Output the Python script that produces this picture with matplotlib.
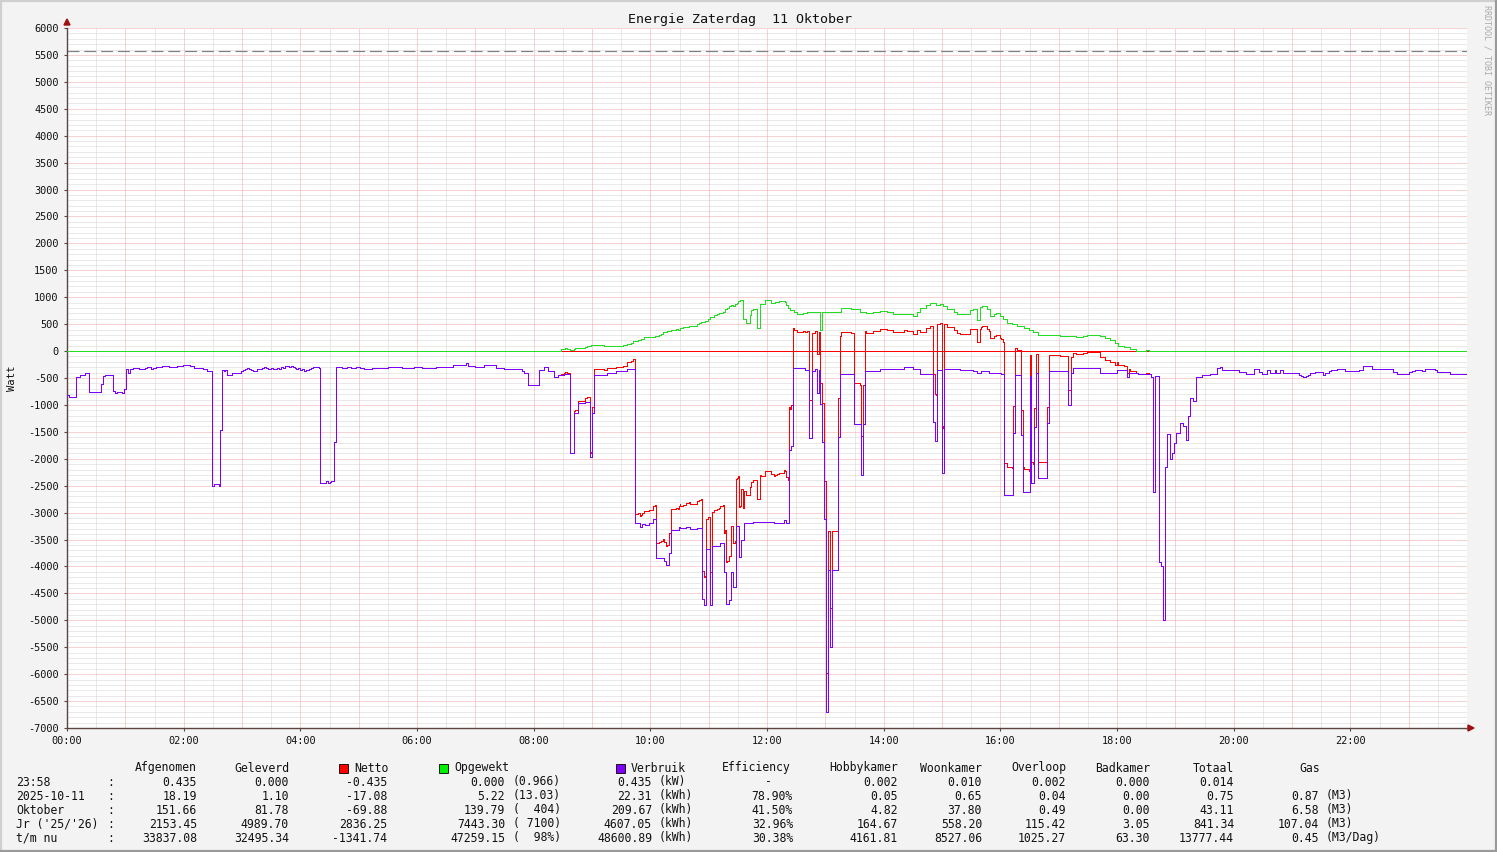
import numpy as np
import matplotlib
matplotlib.use("Agg")
import matplotlib.pyplot as plt
from matplotlib.patches import Rectangle, Polygon
from matplotlib.lines import Line2D

# ---------------- data (time in minutes since 00:00, power in W) ----------------
verbruik_t = [0, 2, 7, 9, 13, 19, 21, 23, 35, 37, 39, 47, 49, 51, 57, 59, 61, 63, 65, 68,
              74, 80, 82, 86, 88, 92, 98, 105, 113, 119, 127, 131, 140, 144, 149, 151, 156, 157, 159, 161,
              163, 165, 170, 179, 181, 183, 185, 187, 189, 191, 195, 197, 201, 203, 205, 207, 210, 212, 216, 218,
              220, 222, 224, 228, 230, 232, 234, 236, 238, 240, 242, 244, 246, 249, 251, 253, 259, 260, 266, 268,
              270, 272, 275, 277, 283, 288, 292, 297, 301, 305, 314, 324, 330, 338, 345, 357, 365, 373, 380, 390,
              397, 410, 412, 420, 429, 441, 449, 456, 468, 470, 474, 485, 491, 495, 501, 505, 511, 517, 521, 526,
              533, 538, 540, 542, 555, 565, 576, 584, 589, 591, 595, 599, 603, 606, 614, 616, 619, 621, 629, 631,
              637, 641, 648, 653, 655, 657, 661, 663, 672, 676, 678, 681, 683, 685, 688, 691, 693, 696, 706, 714,
              718, 727, 730, 737, 740, 743, 745, 747, 759, 763, 766, 769, 771, 773, 775, 777, 779, 781, 783, 785,
              787, 793, 795, 809, 817, 819, 821, 836, 843, 861, 870, 877, 891, 893, 895, 900, 902, 915, 918, 932,
              936, 940, 948, 961, 964, 973, 975, 981, 983, 990, 992, 995, 997, 999, 1008, 1010, 1030, 1033, 1035, 1062,
              1080, 1090, 1092, 1102, 1115, 1117, 1119, 1123, 1125, 1127, 1129, 1131, 1134, 1137, 1139, 1141, 1145, 1148, 1151, 1153,
              1155, 1158, 1161, 1167, 1176, 1183, 1186, 1188, 1205, 1213, 1221, 1226, 1229, 1234, 1237, 1242, 1244, 1248, 1251, 1255,
              1267, 1269, 1271, 1274, 1276, 1279, 1284, 1292, 1294, 1298, 1300, 1306, 1315, 1329, 1333, 1342, 1364, 1368, 1380, 1383,
              1387, 1394, 1397, 1407, 1409, 1422, 1440]
verbruik_w = [-823, -860, -845, -490, -452, -415, -403, -767, -620, -459, -446, -743, -780, -767, -780, -700, -340, -403, -328, -310,
              -340, -310, -291, -328, -310, -291, -272, -291, -272, -254, -272, -310, -340, -378, -2501, -2477, -2501, -1473, -359, -378,
              -359, -446, -403, -378, -359, -340, -310, -328, -359, -378, -340, -328, -310, -291, -310, -328, -310, -328, -310, -328,
              -291, -310, -272, -291, -272, -291, -310, -328, -310, -359, -328, -378, -359, -328, -310, -291, -310, -2445, -2405, -2445,
              -2425, -2405, -1696, -303, -320, -303, -320, -290, -320, -335, -320, -310, -300, -290, -310, -300, -320, -320, -290, -290,
              -260, -229, -285, -300, -260, -310, -330, -335, -378, -415, -625, -360, -290, -378, -489, -452, -430, -1900, -1150, -972,
              -941, -1975, -1151, -440, -410, -378, -335, -3200, -3260, -3215, -3230, -3200, -3126, -3844, -3900, -3974, -3750, -3324, -3270, -3290,
              -3270, -3300, -3280, -4611, -4723, -3671, -4723, -3621, -3570, -4098, -4698, -4630, -4098, -4389, -3250, -3820, -3500, -3188, -3170, -3180,
              -3170, -3200, -3190, -3130, -3190, -1838, -1758, -322, -350, -1622, -378, -340, -774, -360, -984, -1684, -3126, -6698, -4067, -5491,
              -4067, -1591, -433, -1361, -2303, -1361, -365, -340, -330, -303, -330, -433, -1312, -1677, -350, -2259, -330, -340, -355, -370,
              -400, -370, -400, -425, -2674, -1517, -446, -1560, -2613, -464, -2445, -1405, -402, -2365, -1343, -371, -1003, -402, -322, -402,
              -350, -480, -402, -430, -480, -2613, -464, -3924, -3987, -4996, -2148, -1547, -2006, -1900, -1715, -1529, -1343, -1400, -1653, -1207,
              -879, -920, -477, -446, -421, -322, -291, -353, -390, -420, -340, -380, -420, -350, -400, -350, -400, -350, -400, -415,
              -440, -465, -490, -470, -440, -415, -390, -440, -400, -365, -350, -335, -370, -350, -285, -340, -390, -420, -390, -365,
              -350, -370, -335, -360, -390, -427, -427]

opgewekt_t = [0, 508, 512, 514, 517, 521, 523, 533, 535, 539, 552, 572, 576, 580, 582, 587, 590, 593, 605, 609,
              611, 613, 617, 621, 626, 628, 630, 634, 640, 648, 650, 652, 656, 659, 661, 665, 669, 671, 675, 677,
              679, 681, 683, 685, 687, 689, 690, 692, 695, 698, 702, 704, 706, 710, 713, 718, 724, 728, 732, 738,
              740, 742, 744, 748, 751, 757, 761, 775, 777, 796, 806, 816, 822, 829, 836, 843, 850, 864, 870, 874,
              877, 884, 888, 891, 894, 898, 901, 905, 912, 915, 929, 932, 936, 939, 941, 946, 949, 953, 956, 960,
              963, 967, 972, 977, 984, 989, 994, 999, 1021, 1038, 1045, 1049, 1062, 1068, 1073, 1078, 1081, 1087, 1093, 1100,
              1110, 1113, 1440]
opgewekt_w = [0, 31, 50, 31, 13, 31, 50, 68, 87, 105, 87, 105, 124, 142, 180, 198, 217, 254, 273, 291,
              310, 347, 366, 384, 403, 384, 421, 440, 459, 496, 514, 533, 552, 589, 626, 663, 682, 700, 719, 775,
              793, 830, 849, 830, 868, 886, 923, 942, 589, 514, 663, 756, 775, 421, 868, 942, 886, 905, 923, 905,
              849, 793, 756, 719, 682, 700, 719, 384, 719, 793, 775, 730, 700, 730, 745, 718, 693, 681, 656, 730,
              792, 855, 897, 885, 855, 870, 836, 774, 730, 681, 762, 774, 576, 810, 836, 774, 650, 680, 700, 650,
              590, 514, 500, 464, 420, 390, 347, 297, 285, 260, 285, 297, 285, 235, 205, 143, 99, 68, 31, 0,
              15, 0, 0]

limiet_w = 5570  # dashed reference line

x_tick_labels = ["00:00", "02:00", "04:00", "06:00", "08:00", "10:00",
                 "12:00", "14:00", "16:00", "18:00", "20:00", "22:00"]

title = "Energie Zaterdag  11 Oktober"

# legend table
row_labels = ["23:58", "2025-10-11", "Oktober", "Jr ('25/'26)", "t/m nu"]
afgenomen = ["0.435", "18.19", "151.66", "2153.45", "33837.08"]
geleverd = ["0.000", "1.10", "81.78", "4989.70", "32495.34"]
netto_tab = ["-0.435", "-17.08", "-69.88", "2836.25", "-1341.74"]
opgewekt_tab = ["0.000", "5.22", "139.79", "7443.30", "47259.15"]
opgewekt_extra = ["(0.966)", "(13.03)", "(  404)", "( 7100)", "(  98%)"]
verbruik_tab = ["0.435", "22.31", "209.67", "4607.05", "48600.89"]
verbruik_unit = ["(kW)", "(kWh)", "(kWh)", "(kWh)", "(kWh)"]
efficiency = ["-", "78.90%", "41.50%", "32.96%", "30.38%"]
hobbykamer = ["0.002", "0.05", "4.82", "164.67", "4161.81"]
woonkamer = ["0.010", "0.65", "37.80", "558.20", "8527.06"]
overloop = ["0.002", "0.04", "0.49", "115.42", "1025.27"]
badkamer = ["0.000", "0.00", "0.00", "3.05", "63.30"]
totaal = ["0.014", "0.75", "43.11", "841.34", "13777.44"]
gas = ["", "0.87", "6.58", "107.04", "0.45"]
gas_unit = ["", "(M3)", "(M3)", "(M3)", "(M3/Dag)"]

# ---------------- figure ----------------
W, H = 1497, 852
MONO = "DejaVu Sans Mono"
plt.rcParams["font.family"] = MONO

RED = "#FF0000"
GREEN = "#22DD22"
PURPLE = "#8000FF"
AXCOL = "#5A4444"
ARROW = "#A01010"
PX = 0.72  # one pixel in points

fig = plt.figure(figsize=(W / 100, H / 100), dpi=100)
fig.patch.set_facecolor("#F3F3F3")

# overlay in pixel coordinates for frame + legend
ov = fig.add_axes([0, 0, 1, 1])
ov.set_xlim(0, W)
ov.set_ylim(H, 0)
ov.axis("off")
ov.patch.set_alpha(0)

ax = fig.add_axes([67 / W, 1 - 728 / H, 1400 / W, 700 / H])
ax.set_facecolor("white")
ax.set_xlim(0, 1440)
ax.set_ylim(-7000, 6000)

# grid (dotted)
GRID_MINOR = "#D4D4D4"
GRID_MAJOR = "#F2A6A6"
for t in np.arange(30, 1440, 60):
    ax.axvline(t, color=GRID_MINOR, lw=PX, ls=(0, (1, 1)), zorder=1)
for t in np.arange(60, 1441, 60):
    ax.axvline(t, color=GRID_MAJOR, lw=PX, ls=(0, (1, 1)), zorder=1.2)
for v in np.arange(-7000, 6001, 100):
    if v % 500:
        ax.axhline(v, color=GRID_MINOR, lw=PX, ls=(0, (1, 1)), zorder=1)
for v in np.arange(-6500, 6001, 500):
    ax.axhline(v, color=GRID_MAJOR, lw=PX, ls=(0, (1, 1)), zorder=1.2)

ax.axhline(limiet_w, color="#808080", lw=PX * 1.2, ls=(0, (10, 4)), zorder=2)

# series
vt = np.array(verbruik_t, float)
vw = np.array(verbruik_w, float)
ot = np.array(opgewekt_t, float)
ow = np.array(opgewekt_w, float)


def step_at(t, v, q):
    i = np.searchsorted(t, q, side="right") - 1
    return v[np.clip(i, 0, len(v) - 1)]


nt = np.union1d(vt, ot)
nw = step_at(ot, ow, nt) + step_at(vt, vw, nt)

LW = PX
ax.axhline(0, color=RED, lw=LW, zorder=3, antialiased=False)
ax.plot(nt, nw, drawstyle="steps-post", color=RED, lw=LW, zorder=4, antialiased=False)
ax.plot(ot, ow, drawstyle="steps-post", color=GREEN, lw=LW, zorder=5, antialiased=False)
ax.plot(vt, vw, drawstyle="steps-post", color=PURPLE, lw=LW, zorder=6, antialiased=False)

# axes styling
for s in ["top", "right"]:
    ax.spines[s].set_visible(False)
for s in ["left", "bottom"]:
    ax.spines[s].set_color(AXCOL)
    ax.spines[s].set_linewidth(1.0)
ax.set_xticks(np.arange(0, 1440, 120))
ax.set_xticklabels(x_tick_labels)
ax.set_yticks(np.arange(-7000, 6001, 500))
ax.set_yticklabels([str(v) for v in np.arange(-7000, 6001, 500)])
ax.tick_params(axis="both", length=2, width=0.8, color=AXCOL, labelsize=7.4, labelcolor="#111111")
ax.tick_params(axis="x", pad=4)
ax.tick_params(axis="y", pad=4)
ax.set_ylabel("Watt", fontsize=7.6, color="#111111")
ax.yaxis.set_label_coords(-50 / 1400, 0.5)

# arrows
ov.add_patch(Polygon([[64, 25], [70, 25], [67, 19]], closed=True, color=ARROW, zorder=10))
ov.add_patch(Polygon([[1468, 725], [1468, 731], [1474, 728]], closed=True, color=ARROW, zorder=10))
ov.add_line(Line2D([1466, 1469], [728, 728], color=AXCOL, lw=1.0))

# frame
ov.add_line(Line2D([0.5, W - 0.5], [0.8, 0.8], color="#CFCFCF", lw=1.6))
ov.add_line(Line2D([0.8, 0.8], [0, H], color="#CFCFCF", lw=1.6))
ov.add_line(Line2D([0, W], [H - 0.8, H - 0.8], color="#9A9A9A", lw=1.6))
ov.add_line(Line2D([W - 0.8, W - 0.8], [0, H], color="#9A9A9A", lw=1.6))

# title and credit
ov.text(740, 19, title, ha="center", va="center", fontsize=9.6, color="#111111")
ov.text(1487, 5, "RRDTOOL / TOBI OETIKER", ha="center", va="top", rotation=270,
        fontsize=6.0, color="#AAAAAA")

# legend table
FS = 8.3
TC = "#111111"
hy = 768
ov.text(197, hy, "Afgenomen", ha="right", va="center", fontsize=FS, color=TC)
ov.text(289, hy, "Geleverd", ha="right", va="center", fontsize=FS, color=TC)
for x0, col, lab in [(339, RED, "Netto"), (439, "#00EE00", "Opgewekt"), (616, PURPLE, "Verbruik")]:
    ov.add_patch(Rectangle((x0, hy - 4.5), 9, 9, facecolor=col, edgecolor="black", lw=0.6, zorder=5))
    ov.text(x0 + 15, hy, lab, ha="left", va="center", fontsize=FS, color=TC)
ov.text(722, hy, "Efficiency", ha="left", va="center", fontsize=FS, color=TC)
for xr, lab in [(898, "Hobbykamer"), (982, "Woonkamer"), (1066, "Overloop"),
                (1150, "Badkamer"), (1234, "Totaal")]:
    ov.text(xr, hy, lab, ha="right", va="center", fontsize=FS, color=TC)
ov.text(1299, hy, "Gas", ha="left", va="center", fontsize=FS, color=TC)

for i, lab in enumerate(row_labels):
    y = 782 + 14 * i
    ov.text(16, y, lab, ha="left", va="center", fontsize=FS, color=TC)
    ov.text(107, y, ":", ha="left", va="center", fontsize=FS, color=TC)
    ov.text(197, y, afgenomen[i], ha="right", va="center", fontsize=FS, color=TC)
    ov.text(289, y, geleverd[i], ha="right", va="center", fontsize=FS, color=TC)
    ov.text(387, y, netto_tab[i], ha="right", va="center", fontsize=FS, color=TC)
    ov.text(505, y, opgewekt_tab[i], ha="right", va="center", fontsize=FS, color=TC)
    ov.text(561, y, opgewekt_extra[i], ha="right", va="center", fontsize=FS, color=TC)
    ov.text(652, y, verbruik_tab[i], ha="right", va="center", fontsize=FS, color=TC)
    ov.text(659, y, verbruik_unit[i], ha="left", va="center", fontsize=FS, color=TC)
    if efficiency[i] == "-":
        ov.text(768, y, "-", ha="center", va="center", fontsize=FS, color=TC)
    else:
        ov.text(793, y, efficiency[i], ha="right", va="center", fontsize=FS, color=TC)
    ov.text(898, y, hobbykamer[i], ha="right", va="center", fontsize=FS, color=TC)
    ov.text(982, y, woonkamer[i], ha="right", va="center", fontsize=FS, color=TC)
    ov.text(1066, y, overloop[i], ha="right", va="center", fontsize=FS, color=TC)
    ov.text(1150, y, badkamer[i], ha="right", va="center", fontsize=FS, color=TC)
    ov.text(1234, y, totaal[i], ha="right", va="center", fontsize=FS, color=TC)
    if gas[i]:
        ov.text(1319, y, gas[i], ha="right", va="center", fontsize=FS, color=TC)
        ov.text(1326, y, gas_unit[i], ha="left", va="center", fontsize=FS, color=TC)

fig.savefig("out.png", dpi=100, facecolor=fig.get_facecolor())
